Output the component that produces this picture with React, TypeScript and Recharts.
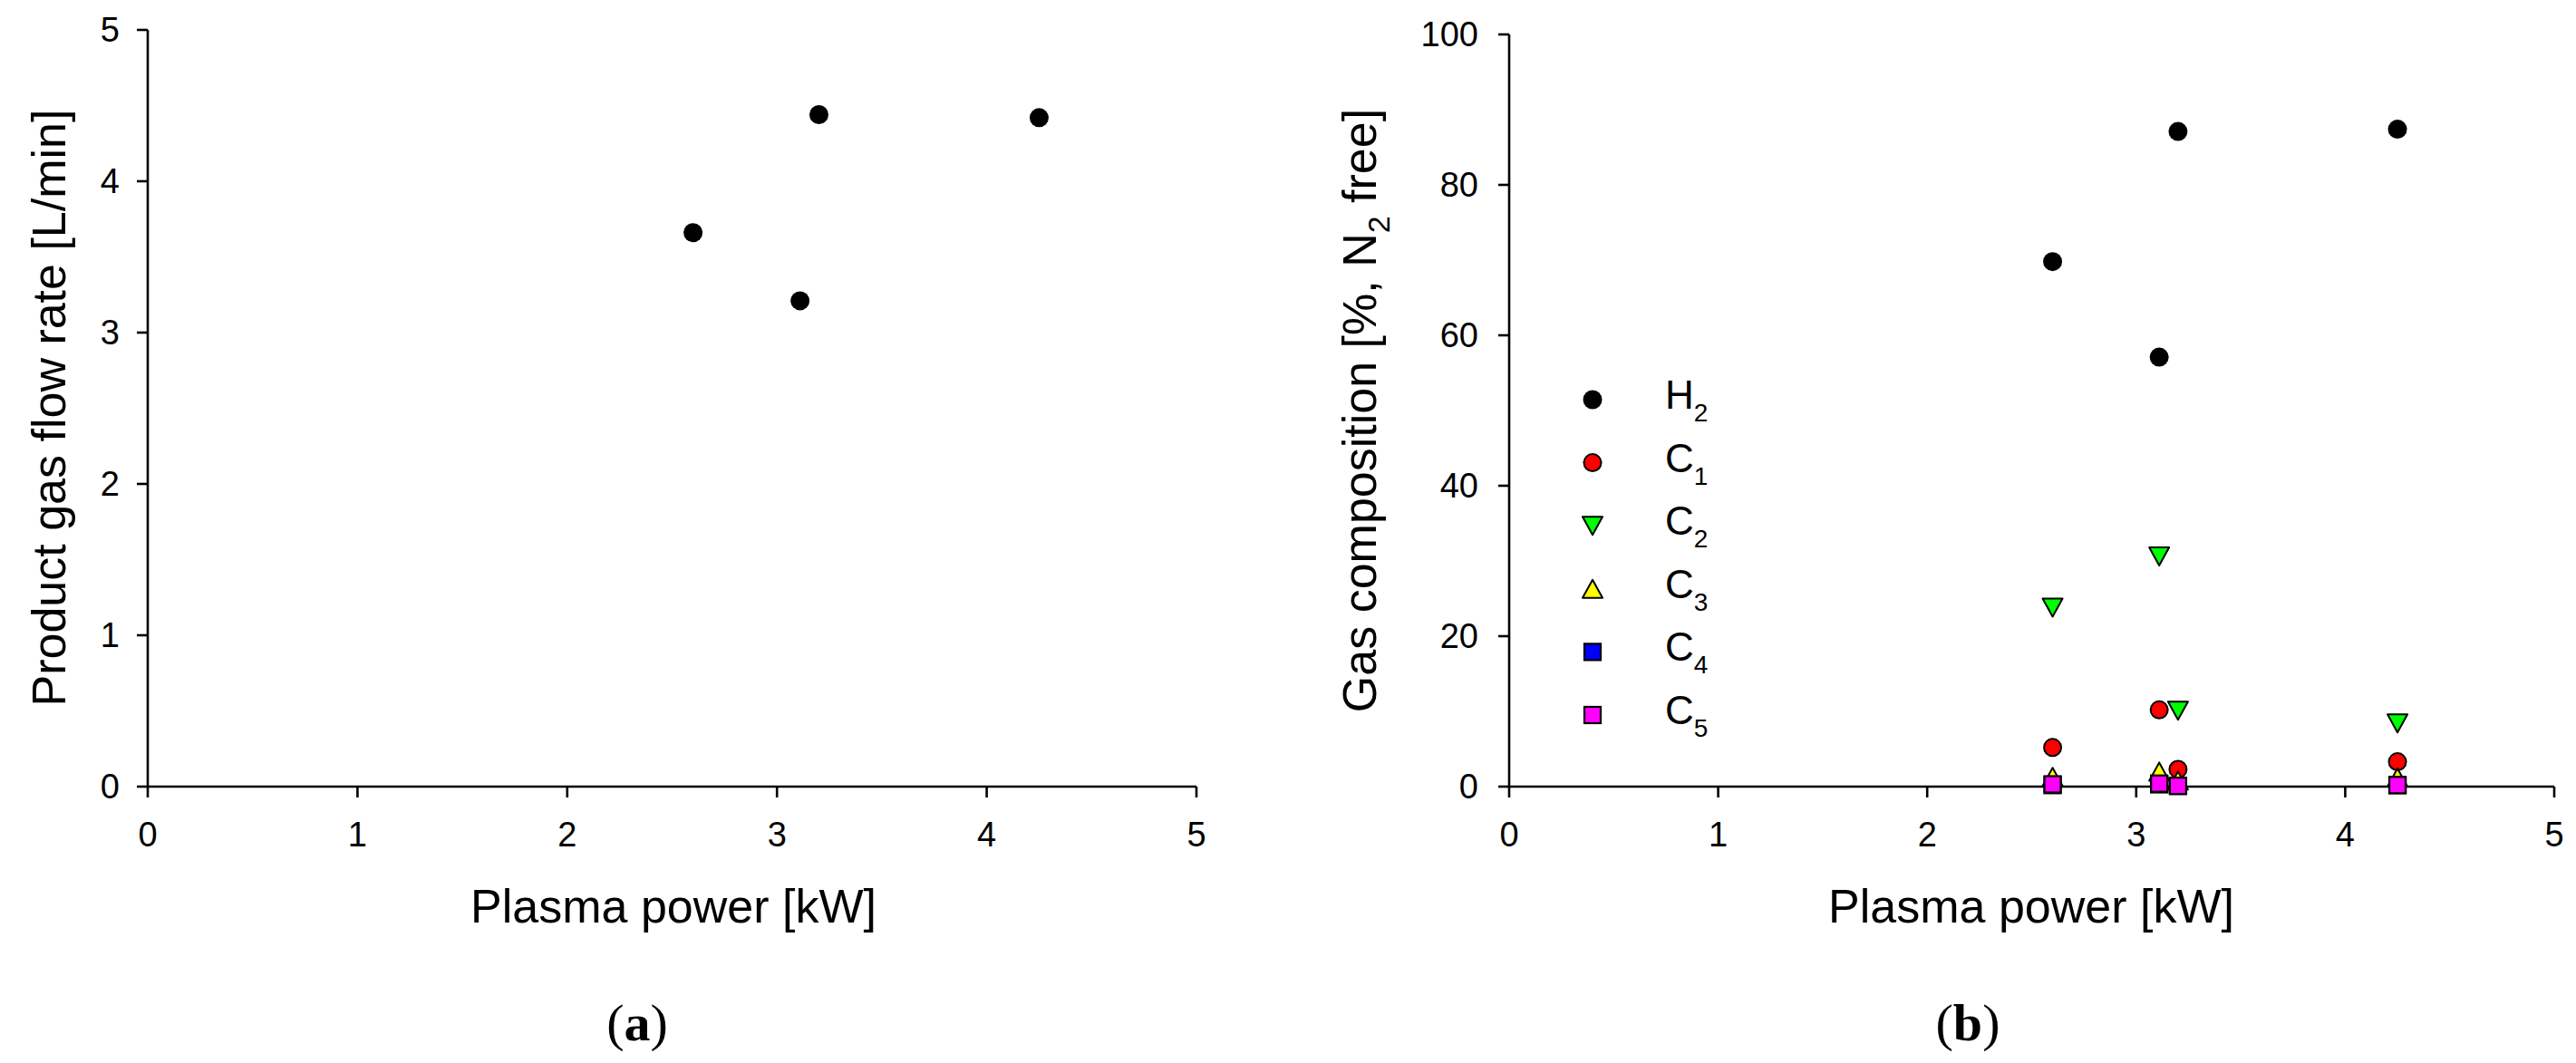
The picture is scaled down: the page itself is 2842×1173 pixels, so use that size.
import React from 'react';
import { ScatterChart, Scatter, XAxis, YAxis, Legend } from 'recharts';

// plasma power [kW] for each run
const powerA = [2.6, 3.11, 3.2, 4.25];
const flowRate = [3.66, 3.21, 4.44, 4.42];

const powerB = [2.6, 3.11, 3.2, 4.25];
const h2 = [69.8, 57.1, 87.1, 87.4];
const c1 = [5.2, 10.2, 2.3, 3.3];
const c2 = [23.8, 30.6, 10.1, 8.4];
const c3 = [1.3, 2.0, 0.8, 1.2];
const c4 = [0.2, 0.3, 0.1, 0.2];
const c5 = [0.3, 0.4, 0.1, 0.2];

const xTicks = [0, 1, 2, 3, 4, 5];
const yTicksA = [0, 1, 2, 3, 4, 5];
const yTicksB = [0, 20, 40, 60, 80, 100];

const FONT = '"Liberation Sans", Arial, sans-serif';
const SERIF = '"Liberation Serif", "Times New Roman", serif';
const W = 1421;
const H = 1173;

const pts = (xs: number[], ys: number[]) => xs.map((x, i) => ({ x, y: ys[i] }));

const dot = (r: number, fill: string, stroke?: string) => (p: any) => (
  <circle cx={p.cx} cy={p.cy} r={r} fill={fill} stroke={stroke || 'none'} strokeWidth={2} />
);
const triDown = (fill: string) => (p: any) => (
  <path d={`M${p.cx - 11},${p.cy - 10}L${p.cx + 11},${p.cy - 10}L${p.cx},${p.cy + 10}Z`} fill={fill} stroke="#000" strokeWidth={2} strokeLinejoin="round" />
);
const triUp = (fill: string) => (p: any) => (
  <path d={`M${p.cx},${p.cy - 10}L${p.cx + 11},${p.cy + 10}L${p.cx - 11},${p.cy + 10}Z`} fill={fill} stroke="#000" strokeWidth={2} strokeLinejoin="round" />
);
const square = (fill: string) => (p: any) => (
  <rect x={p.cx - 9} y={p.cy - 9} width={18} height={18} fill={fill} stroke="#000" strokeWidth={2.2} />
);

const seriesB = [
  { name: 'H2', data: pts(powerB, h2), shape: dot(10.5, '#000') },
  { name: 'C1', data: pts(powerB, c1), shape: dot(9.5, '#ff0000', '#000') },
  { name: 'C2', data: pts(powerB, c2), shape: triDown('#00ff00') },
  { name: 'C3', data: pts(powerB, c3), shape: triUp('#ffff00') },
  { name: 'C4', data: pts(powerB, c4), shape: square('#0000ff') },
  { name: 'C5', data: pts(powerB, c5), shape: square('#ff00ff') },
];

const axisLine = { stroke: '#000', strokeWidth: 2.6 };
const tickStyle = { fill: '#000', fontSize: 38, fontFamily: FONT };

const TitleA = () => (
  <text x={72} y={450} transform="rotate(-90 72 450)" textAnchor="middle" fontSize={52} fontFamily={FONT} fill="#000">
    Product gas flow rate [L/min]
  </text>
);

const TitleB = () => (
  <text x={97} y={453} transform="rotate(-90 97 453)" textAnchor="middle" fontSize={52} fontFamily={FONT} fill="#000">
    Gas composition [%, N<tspan fontSize={34} dy={15}>2</tspan><tspan dy={-15}> free]</tspan>
  </text>
);

const xTitle = (cx: number, tagX: number, tag: string) => () => (
  <g>
    <text x={cx} y={1018} textAnchor="middle" fontSize={52} fontFamily={FONT} fill="#000">
      Plasma power [kW]
    </text>
    <text x={tagX} y={1148} textAnchor="middle" fontSize={58} fontFamily={SERIF} fill="#000">
      (<tspan fontWeight="bold">{tag}</tspan>)
    </text>
  </g>
);

const LegendB = () => (
  <svg width={240} height={460}>
    {seriesB.map((s, i) => {
      const cy = 61 + i * 69.6;
      return (
        <g key={s.name}>
          {s.shape({ cx: 36, cy })}
          <text x={116} y={cy + 10} fontSize={44} fontFamily={FONT} fill="#000">
            {s.name[0]}
            <tspan fontSize={28} dy={14}>{s.name.slice(1)}</tspan>
          </text>
        </g>
      );
    })}
  </svg>
);

function PanelA() {
  return (
    <ScatterChart width={W} height={H} margin={{ top: 33, right: 101, bottom: 245, left: 63 }}>
      <XAxis type="number" dataKey="x" domain={[0, 5]} ticks={xTicks} height={60}
        axisLine={axisLine} tickLine={axisLine} tickSize={12} tickMargin={27} tick={tickStyle}
        label={xTitle(743, 703, 'a')} />
      <YAxis type="number" dataKey="y" domain={[0, 5]} ticks={yTicksA} width={100}
        axisLine={axisLine} tickLine={axisLine} tickSize={12} tickMargin={19} tick={tickStyle}
        label={TitleA} />
      <XAxis xAxisId="top" orientation="top" type="number" domain={[0, 5]} height={0}
        axisLine={axisLine} tick={false} tickLine={false} />
      <YAxis yAxisId="right" orientation="right" type="number" domain={[0, 5]} width={0}
        axisLine={axisLine} tick={false} tickLine={false} />
      <Scatter name="flow" data={pts(powerA, flowRate)} shape={dot(10.5, '#000')} isAnimationActive={false} />
    </ScatterChart>
  );
}

function PanelB() {
  return (
    <ScatterChart width={W} height={H} margin={{ top: 38, right: 24, bottom: 245, left: 144 }}>
      <XAxis type="number" dataKey="x" domain={[0, 5]} ticks={xTicks} height={60}
        axisLine={axisLine} tickLine={axisLine} tickSize={12} tickMargin={27} tick={tickStyle}
        label={xTitle(820, 750, 'b')} />
      <YAxis type="number" dataKey="y" domain={[0, 100]} ticks={yTicksB} width={100}
        axisLine={axisLine} tickLine={axisLine} tickSize={12} tickMargin={22} tick={tickStyle}
        label={TitleB} />
      <XAxis xAxisId="top" orientation="top" type="number" domain={[0, 5]} height={0}
        axisLine={axisLine} tick={false} tickLine={false} />
      <YAxis yAxisId="right" orientation="right" type="number" domain={[0, 100]} width={0}
        axisLine={axisLine} tick={false} tickLine={false} />
      {seriesB.map((s) => (
        <Scatter key={s.name} name={s.name} data={s.data} shape={s.shape} isAnimationActive={false} />
      ))}
      <Legend layout="vertical" align="center" verticalAlign="middle"
        wrapperStyle={{ left: 300, top: 380, width: 240, height: 460 }} content={LegendB} />
    </ScatterChart>
  );
}

export default function App() {
  return (
    <div style={{ position: 'absolute', left: 0, top: 0, width: 2842, height: 1173, background: '#fff', display: 'flex' }}>
      <PanelA />
      <PanelB />
    </div>
  );
}
